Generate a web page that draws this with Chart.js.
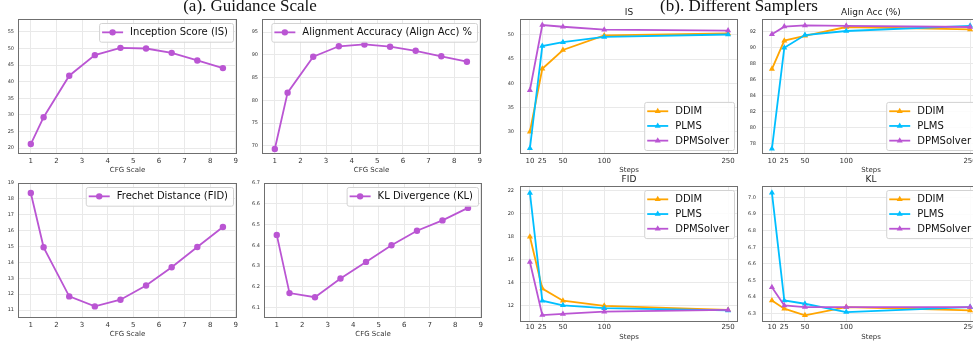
<!DOCTYPE html>
<html>
<head>
<meta charset="utf-8">
<script src="https://cdn.jsdelivr.net/npm/chart.js@4.4.1/dist/chart.umd.min.js"></script>
<style>
  html, body { margin: 0; padding: 0; background: #fff; overflow: hidden; }
  body { width: 973px; height: 345px; position: relative; }
  canvas { position: absolute; }
  .hdr { position: absolute; font-family: 'Liberation Serif', 'Times New Roman', serif; font-size: 17px;
         line-height: 17px; white-space: nowrap; color: #111; transform: translateX(-50%); }
</style>
</head>
<body>
<canvas id="c1"></canvas>
<canvas id="c2"></canvas>
<canvas id="c3"></canvas>
<canvas id="c4"></canvas>
<canvas id="c5"></canvas>
<canvas id="c6"></canvas>
<canvas id="c7"></canvas>
<canvas id="c8"></canvas>
<div class="hdr" style="left:250px;top:-3px">(a). Guidance Scale</div>
<div class="hdr" style="left:739px;top:-3px">(b). Different Samplers</div>
<script>
// (a) guidance scale
const cfgScale = [1, 1.5, 2.5, 3.5, 4.5, 5.5, 6.5, 7.5, 8.5];
const cfgIS = [21.2, 29.3, 41.8, 48.0, 50.2, 50.0, 48.7, 46.4, 44.1];
const cfgAlign = [69.3, 81.7, 89.6, 91.9, 92.3, 91.8, 90.9, 89.7, 88.5];
const cfgFID = [18.37, 14.95, 11.86, 11.23, 11.65, 12.55, 13.7, 14.97, 16.23];
const cfgKL = [6.45, 6.17, 6.15, 6.24, 6.32, 6.40, 6.47, 6.52, 6.58];
const cfgTicks = [1, 2, 3, 4, 5, 6, 7, 8, 9];

// (b) samplers
const steps = [10, 25, 50, 100, 250];
const samplers = ['DDIM', 'PLMS', 'DPMSolver'];
const isDDIM = [30.0, 43.0, 46.9, 49.9, 50.3];
const isPLMS = [26.6, 47.7, 48.5, 49.6, 50.1];
const isDPM = [38.6, 52.05, 51.7, 51.1, 50.9];
const accDDIM = [87.35, 90.9, 91.5, 92.6, 92.3];
const accPLMS = [77.4, 90.0, 91.6, 92.1, 92.75];
const accDPM = [91.7, 92.65, 92.8, 92.75, 92.6];
const fidDDIM = [18.0, 13.5, 12.45, 12.0, 11.65];
const fidPLMS = [21.8, 12.45, 12.05, 11.8, 11.6];
const fidDPM = [15.8, 11.2, 11.3, 11.5, 11.65];
const klDDIM = [6.38, 6.33, 6.29, 6.34, 6.32];
const klPLMS = [7.03, 6.38, 6.36, 6.31, 6.34];
const klDPM = [6.46, 6.35, 6.34, 6.34, 6.34];

// y tick labels
const isTicksA = [20, 25, 30, 35, 40, 45, 50, 55];
const alignTicksA = [70, 75, 80, 85, 90, 95];
const fidTicksA = [11, 12, 13, 14, 15, 16, 17, 18, 19];
const klTicksA = [6.1, 6.2, 6.3, 6.4, 6.5, 6.6, 6.7];
const isTicksB = [30, 35, 40, 45, 50];
const accTicksB = [78, 80, 82, 84, 86, 88, 90, 92];
const fidTicksB = [12, 14, 16, 18, 20, 22];
const klTicksB = [6.3, 6.4, 6.5, 6.6, 6.7, 6.8, 6.9, 7.0];

const FONT = "'DejaVu Sans', sans-serif";
const PURPLE = '#BA55D3';
const samplerColors = ['#FFA500', '#00BFFF', PURPLE];

function drawMarker(ctx, style, x, y, r) {
  ctx.beginPath();
  if (style === 'triangle') {
    for (let k = 0; k < 3; k++) {
      const ang = k * 2 * Math.PI / 3;
      const px = x + Math.sin(ang) * r, py = y - Math.cos(ang) * r;
      k ? ctx.lineTo(px, py) : ctx.moveTo(px, py);
    }
    ctx.closePath();
  } else {
    ctx.arc(x, y, r, 0, Math.PI * 2);
  }
  ctx.fill();
}

// frame on all four sides + legend inside the plot area
const frameAndLegend = {
  id: 'frameAndLegend',
  afterDatasetsDraw(chart, args, opts) {
    const { ctx, chartArea: a } = chart;
    ctx.save();
    ctx.strokeStyle = '#6f6f6f';
    ctx.lineWidth = 1;
    ctx.strokeRect(Math.round(a.left) + 0.5, Math.round(a.top) + 0.5, Math.round(a.width) - 1, Math.round(a.height) - 1);
    if (opts.corner) {
      ctx.font = '10px ' + FONT;
      const sets = chart.data.datasets;
      const textW = Math.max(...sets.map(d => ctx.measureText(d.label).width));
      const rowH = 14.7, pad = 2;
      const w = 3 + 21 + 7 + textW + 5;
      const h = sets.length * rowH + pad * 2;
      const x = a.right - 4 - w;
      const y = opts.corner === 'tr' ? a.top + 4 : a.bottom - 4 - h;
      ctx.fillStyle = 'rgba(255,255,255,0.85)';
      ctx.strokeStyle = '#d2d2d2';
      ctx.beginPath();
      ctx.roundRect(x + 0.5, y + 0.5, w, h, 2);
      ctx.fill();
      ctx.stroke();
      sets.forEach((d, i) => {
        const cy = y + pad + rowH * (i + 0.5);
        ctx.strokeStyle = d.borderColor;
        ctx.lineWidth = d.borderWidth;
        ctx.beginPath();
        ctx.moveTo(x + 3, cy);
        ctx.lineTo(x + 24, cy);
        ctx.stroke();
        ctx.fillStyle = d.borderColor;
        drawMarker(ctx, d.pointStyle, x + 13.5, cy, d.pointRadius);
        ctx.fillStyle = '#111';
        ctx.textBaseline = 'middle';
        ctx.textAlign = 'left';
        ctx.fillText(d.label, x + 31, cy + 0.5);
      });
    }
    ctx.restore();
  }
};

function makeChart(id, g, datasets, xs, ys, title, xTitle, corner) {
  const cv = document.getElementById(id);
  const topPad = title ? 14 : g.padTop;
  const W = g.yW + g.areaW + g.padR;
  const H = topPad + g.areaH + g.xH;
  cv.width = W; cv.height = H;
  cv.style.width = W + 'px'; cv.style.height = H + 'px';
  cv.style.left = (g.left - g.yW) + 'px';
  cv.style.top = (g.top - topPad) + 'px';
  return new Chart(cv, {
    type: 'line',
    data: { datasets: datasets },
    options: {
      responsive: false,
      animation: false,
      devicePixelRatio: 1,
      layout: { padding: { top: title ? 0 : g.padTop, right: g.padR, left: 0, bottom: 0 } },
      plugins: {
        legend: { display: false },
        tooltip: { enabled: false },
        title: {
          display: !!title, text: title, fullSize: false, color: '#222',
          font: { family: FONT, size: 9, weight: 'normal', lineHeight: 1 },
          padding: { top: 3, bottom: 2 }
        },
        frameAndLegend: { corner: corner }
      },
      scales: {
        x: {
          type: 'linear', min: xs.min, max: xs.max,
          afterBuildTicks: s => { s.ticks = xs.ticks.map(v => ({ value: v })); },
          afterFit: s => { s.height = g.xH; s.paddingLeft = 0; s.paddingRight = 0; },
          grid: { color: '#e9e9e9', drawTicks: false },
          border: { display: false },
          ticks: { font: { family: FONT, size: 7 }, color: '#333', padding: g.xPad, maxRotation: 0, autoSkip: false },
          title: { display: true, text: xTitle, color: '#333', font: { family: FONT, size: 7 }, padding: { top: 0, bottom: 0 } }
        },
        y: {
          min: ys.min, max: ys.max,
          afterBuildTicks: s => { s.ticks = ys.ticks.map(v => ({ value: v })); },
          afterFit: s => { s.width = g.yW; s.paddingTop = 0; s.paddingBottom = 0; },
          grid: { color: '#e9e9e9', drawTicks: false },
          border: { display: false },
          ticks: { font: { family: FONT, size: 5 }, color: '#333', padding: g.yPad, autoSkip: false,
                   callback: v => ys.dec ? v.toFixed(ys.dec) : String(v) }
        }
      }
    },
    plugins: [frameAndLegend]
  });
}

function cfgSet(label, vals) {
  return [{
    label: label,
    data: cfgScale.map((x, i) => ({ x: x, y: vals[i] })),
    borderColor: PURPLE, backgroundColor: PURPLE,
    borderWidth: 1.8, pointRadius: 3.2, pointStyle: 'circle',
    pointBackgroundColor: PURPLE, pointBorderWidth: 0, tension: 0
  }];
}

function samplerSets(series) {
  return series.map((vals, k) => ({
    label: samplers[k],
    data: steps.map((x, i) => ({ x: x, y: vals[i] })),
    borderColor: samplerColors[k], backgroundColor: samplerColors[k],
    borderWidth: 1.8, pointRadius: 3.5, pointStyle: 'triangle',
    pointBackgroundColor: samplerColors[k], pointBorderWidth: 0, tension: 0,
    order: 2 - k
  }));
}

const cfgX = { min: 0.5, max: 9.05, ticks: cfgTicks };
const stepX = { min: -2, max: 262, ticks: steps };

const gL = { yW: 24, padTop: 8, padR: 10, areaW: 219, areaH: 135, xH: 20, xPad: 3, yPad: 4 };
const gR = { yW: 30, padTop: 8, padR: 12, areaW: 218, areaH: 135, xH: 20, xPad: 3, yPad: 6 };

makeChart('c1', Object.assign({}, gL, { left: 18, top: 19 }), cfgSet('Inception Score (IS)', cfgIS),
  cfgX, { min: 18.2, max: 58.9, ticks: isTicksA }, '', 'CFG Scale', 'tr');
makeChart('c2', Object.assign({}, gL, { left: 262, top: 19 }), cfgSet('Alignment Accuracy (Align Acc) %', cfgAlign),
  cfgX, { min: 68.2, max: 97.9, ticks: alignTicksA }, '', 'CFG Scale', 'tr');
makeChart('c3', Object.assign({}, gL, { left: 18, top: 183 }), cfgSet('Frechet Distance (FID)', cfgFID),
  cfgX, { min: 10.5, max: 19.0, ticks: fidTicksA }, '', 'CFG Scale', 'tr');
makeChart('c4', Object.assign({}, gL, { left: 264, top: 183, areaW: 218 }), cfgSet('KL Divergence (KL)', cfgKL),
  cfgX, { min: 6.05, max: 6.7, ticks: klTicksA, dec: 1 }, '', 'CFG Scale', 'tr');

makeChart('c5', Object.assign({}, gR, { left: 520, top: 19 }), samplerSets([isDDIM, isPLMS, isDPM]),
  stepX, { min: 25.4, max: 53.3, ticks: isTicksB }, 'IS', 'Steps', 'br');
makeChart('c6', Object.assign({}, gR, { left: 762, top: 19 }), samplerSets([accDDIM, accPLMS, accDPM]),
  stepX, { min: 76.75, max: 93.6, ticks: accTicksB }, 'Align Acc (%)', 'Steps', 'br');
makeChart('c7', Object.assign({}, gR, { left: 520, top: 186, areaH: 136, xH: 19, xPad: 1 }), samplerSets([fidDDIM, fidPLMS, fidDPM]),
  stepX, { min: 10.6, max: 22.4, ticks: fidTicksB }, 'FID', 'Steps', 'tr');
makeChart('c8', Object.assign({}, gR, { left: 762, top: 186, areaH: 136, xH: 19, xPad: 1 }), samplerSets([klDDIM, klPLMS, klDPM]),
  stepX, { min: 6.25, max: 7.07, ticks: klTicksB, dec: 1 }, 'KL', 'Steps', 'tr');
</script>
</body>
</html>
